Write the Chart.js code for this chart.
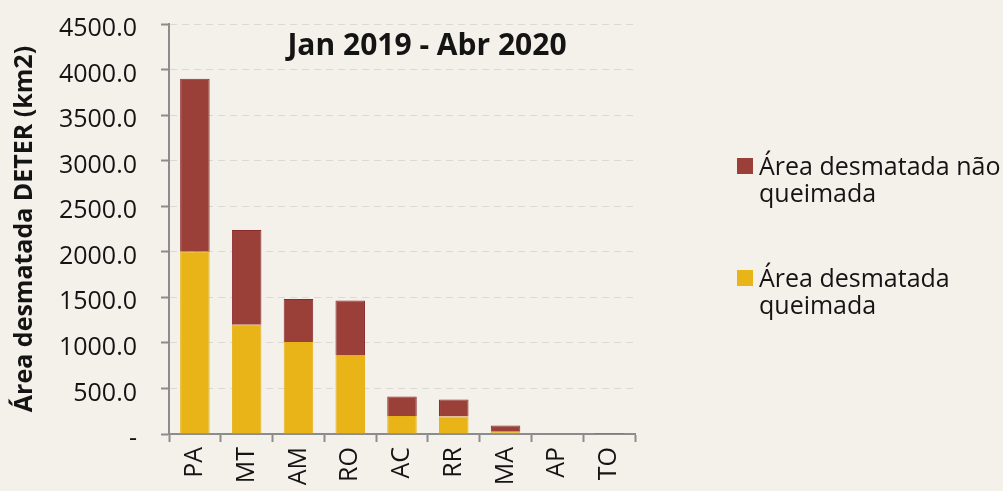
<!DOCTYPE html>
<html>
<head>
<meta charset="utf-8">
<script src="https://cdn.jsdelivr.net/npm/chart.js@4.4.1/dist/chart.umd.min.js"></script>
<style>
  html, body { margin: 0; padding: 0; background: #f4f1eb; }
  #wrap { width: 1003px; height: 491px; }
</style>
</head>
<body>
<div id="wrap"><canvas id="chart" width="1003" height="491"></canvas></div>
<script>
// Estados (Jan 2019 - Abr 2020)
const states = ['PA', 'MT', 'AM', 'RO', 'AC', 'RR', 'MA', 'AP', 'TO'];
const burned = [2000, 1200, 1010, 866, 198, 191, 25, 2, 0];      // queimada
const notBurned = [1900, 1040, 473, 599, 213, 187, 67, 3, 1];    // não queimada
const legendLines = {
  notBurned: ['Área desmatada não', 'queimada'],
  burned: ['Área desmatada', 'queimada']
};
const chartTitle = 'Jan 2019 - Abr 2020';
const yTitle = 'Área desmatada DETER (km2)';

const FONT = '"Open Sans", "Noto Sans", sans-serif';
const RED = '#9b4039', YELLOW = '#e8b417';

// background + title + wrapped legend
const decor = {
  id: 'decor',
  beforeDraw(chart) {
    const c = chart.ctx;
    c.save();
    c.fillStyle = '#f4f1eb';
    c.fillRect(0, 0, chart.width, chart.height);
    c.restore();
  },
  afterDraw(chart) {
    const c = chart.ctx;
    c.save();
    c.fillStyle = '#141414';
    c.font = 'bold 30px ' + FONT;
    c.textAlign = 'center';
    c.textBaseline = 'alphabetic';
    c.fillText(chartTitle, 427, 55);

    const items = [
      { color: RED, lines: legendLines.notBurned, y: 175 },
      { color: YELLOW, lines: legendLines.burned, y: 287 }
    ];
    c.font = '25px ' + FONT;
    c.textAlign = 'left';
    items.forEach(it => {
      c.fillStyle = it.color;
      c.fillRect(737, it.y - 17, 16, 16);
      c.fillStyle = '#141414';
      it.lines.forEach((l, i) => c.fillText(l, 759, it.y + i * 27));
    });
    c.restore();
  }
};

new Chart(document.getElementById('chart'), {
  type: 'bar',
  data: {
    labels: states,
    datasets: [
      {
        label: legendLines.burned.join(' '),
        data: burned,
        backgroundColor: YELLOW,
        borderColor: '#e6b21a',
        borderWidth: 1,
        barPercentage: 0.57,
        categoryPercentage: 1
      },
      {
        label: legendLines.notBurned.join(' '),
        data: notBurned,
        backgroundColor: RED,
        borderColor: '#8a2b2d',
        borderWidth: 1,
        barPercentage: 0.57,
        categoryPercentage: 1
      }
    ]
  },
  options: {
    responsive: false,
    animation: false,
    layout: { padding: { top: 24, right: 368, bottom: 0, left: 0 } },
    plugins: {
      legend: { display: false },
      tooltip: { enabled: false }
    },
    scales: {
      x: {
        stacked: true,
        afterFit: s => { s.height = 57; s.paddingLeft = 0; s.paddingRight = 0; },
        border: { color: '#8c8c8c', width: 2 },
        grid: {
          offset: true,
          drawOnChartArea: false,
          drawTicks: true,
          tickLength: 8,
          tickColor: '#8c8c8c',
          tickWidth: 2
        },
        ticks: {
          autoSkip: false,
          minRotation: 90,
          maxRotation: 90,
          padding: 5,
          color: '#141414',
          font: { family: FONT, size: 25 }
        }
      },
      y: {
        stacked: true,
        min: 0,
        max: 4500,
        afterFit: s => { s.width = 169; s.paddingTop = 0; s.paddingBottom = 0; },
        border: { color: '#8c8c8c', width: 2, dash: [7, 5] },
        grid: {
          color: '#dcd9d3',
          lineWidth: 1,
          tickBorderDash: [],
          tickLength: 8,
          tickColor: '#8c8c8c',
          tickWidth: 2
        },
        ticks: {
          stepSize: 500,
          padding: 24,
          labelOffset: 5,
          color: '#141414',
          font: { family: FONT, size: 25 },
          callback: v => v === 0 ? '-' : v.toFixed(1)
        },
        title: {
          display: true,
          text: yTitle,
          color: '#141414',
          font: { family: FONT, size: 25, weight: 'bold' },
          padding: { top: 10, bottom: 0 }
        }
      }
    }
  },
  plugins: [decor]
});
</script>
</body>
</html>
